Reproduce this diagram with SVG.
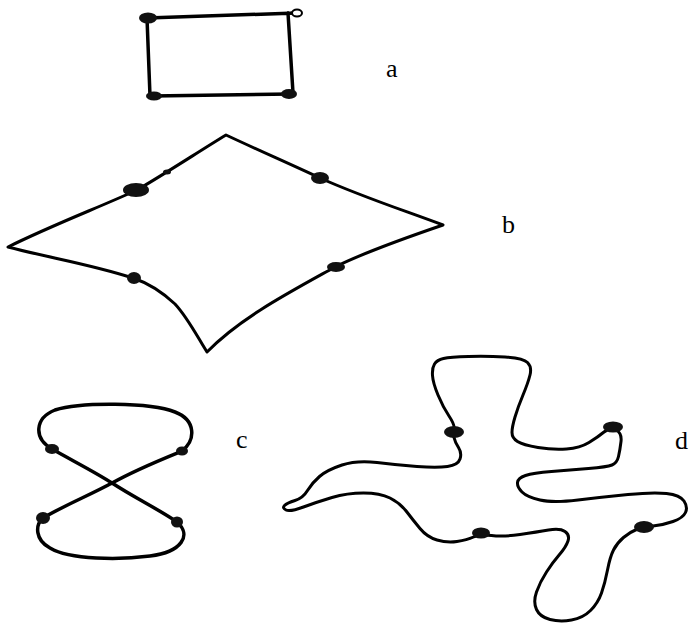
<svg xmlns="http://www.w3.org/2000/svg" width="690" height="624" viewBox="0 0 690 624">
<style>
.ln{fill:none;stroke:#000;stroke-linecap:round;stroke-linejoin:round}
.dot{fill:#111}
.lbl{font-family:"Liberation Serif","Times New Roman",serif;font-size:26px;fill:#000}
</style>
<rect width="690" height="624" fill="#fff"/>
<g id="fig-a">
<path class="ln" stroke-width="3.5" d="M147,18 L296,13 M147,18 L150,96 M152,96 L291,94 M288,13 L293,93"/>
<ellipse class="dot" cx="148" cy="18" rx="9" ry="5.5"/>
<ellipse cx="297" cy="13" rx="5" ry="3.5" fill="#fff" stroke="#000" stroke-width="2"/>
<ellipse class="dot" cx="154" cy="96" rx="8" ry="4.5"/>
<ellipse class="dot" cx="289" cy="94" rx="8" ry="5"/>
<text class="lbl" x="386" y="77">a</text>
</g>
<g id="fig-b">
<path class="ln" stroke-width="3" d="M226,135 C258,150 290,164 320,178 C360,196 400,209 443,225 C405,238 365,252 335,267 C290,292 240,318 207,352 C198,338 188,318 175,304 C160,290 148,283 133,278 C90,264 50,258 8,247 C50,226 100,207 137,190 C168,172 198,152 226,135 Z"/>
<ellipse class="dot" cx="136" cy="190" rx="13" ry="7"/>
<ellipse class="dot" cx="167" cy="172" rx="4" ry="2.5"/>
<ellipse class="dot" cx="320" cy="178" rx="9" ry="6"/>
<ellipse class="dot" cx="134" cy="278" rx="7" ry="6"/>
<ellipse class="dot" cx="336" cy="267" rx="9" ry="5"/>
<text class="lbl" x="502" y="233">b</text>
</g>
<g id="fig-c">
<path class="ln" stroke-width="3.5" d="M52,449 C75,462 95,472 112,483 C135,498 160,510 177,522 C192,535 182,552 150,556 C120,560 70,560 50,548 C35,540 35,525 43,518 C65,505 90,495 112,483 C135,470 160,460 182,451 C196,440 196,420 175,412 C150,402 80,402 55,410 C35,418 33,438 52,449 Z"/>
<ellipse class="dot" cx="52" cy="449" rx="7" ry="5"/>
<ellipse class="dot" cx="182" cy="451" rx="6" ry="4.5"/>
<ellipse class="dot" cx="43" cy="518" rx="7" ry="6"/>
<ellipse class="dot" cx="177" cy="522" rx="6" ry="5.5"/>
<text class="lbl" x="236" y="448">c</text>
</g>
<g id="fig-d">
<path class="ln" stroke-width="3" d="M454,429 Q455,425 449,416 Q443,407 438,395 Q433,383 432.5,375.5 Q432,368 434.5,364 Q437,360 443.5,358.5 Q450,357 468.5,356.5 Q487,356 505,357 Q523,358 527.5,362.5 Q532,367 530,375 Q528,383 523,395 Q518,407 515,417 Q512,427 512,432.5 Q512,438 517.5,441.5 Q523,445 538,447.5 Q553,450 566.5,449 Q580,448 589,442.5 Q598,437 604,432 Q610,427 616,430 Q622,433 621,441.5 Q620,450 618.5,456.5 Q617,463 612,465 Q607,467 588.5,468.5 Q570,470 551.5,471.5 Q533,473 525.5,475.5 Q518,478 517.5,482.5 Q517,487 522,492 Q527,497 540,500 Q553,503 578,500 Q603,497 628,494.5 Q653,492 666.5,493.5 Q680,495 684,501 Q688,507 685.5,512.5 Q683,518 673,521.5 Q663,525 653,526 Q643,527 636.5,529.5 Q630,532 623.5,537.5 Q617,543 613.5,550 Q610,557 607.5,570 Q605,583 601.5,593 Q598,603 590.5,610.5 Q583,618 571.5,620 Q560,622 550,619.5 Q540,617 536.5,609.5 Q533,602 536.5,592 Q540,582 546.5,572 Q553,562 559.5,554.5 Q566,547 568,541 Q570,535 565,531.5 Q560,528 548.5,530 Q537,532 520,534.5 Q503,537 491.5,535.5 Q480,534 473.5,537 Q467,540 457,541.5 Q447,543 437,540 Q427,537 420,528.5 Q413,520 406.5,511.5 Q400,503 390,498 Q380,493 363.5,493 Q347,493 332,497.5 Q317,502 303.5,507 Q290,512 286,510 Q282,508 284.5,505.5 Q287,503 295,500.5 Q303,498 307.5,490.5 Q312,483 319.5,476.5 Q327,470 342,465 Q357,460 377,462.5 Q397,465 417,466.5 Q437,468 447.5,466.5 Q458,465 460,459 Q462,453 458.5,447.5 Q455,442 454,437.5 Q453,433 454,429 Z"/>
<ellipse class="dot" cx="454" cy="432" rx="10" ry="6"/>
<ellipse class="dot" cx="613" cy="427" rx="10" ry="5.5"/>
<ellipse class="dot" cx="644" cy="527" rx="10" ry="6"/>
<ellipse class="dot" cx="481" cy="533" rx="9" ry="5.5"/>
<text class="lbl" x="675" y="449">d</text>
</g>
</svg>
